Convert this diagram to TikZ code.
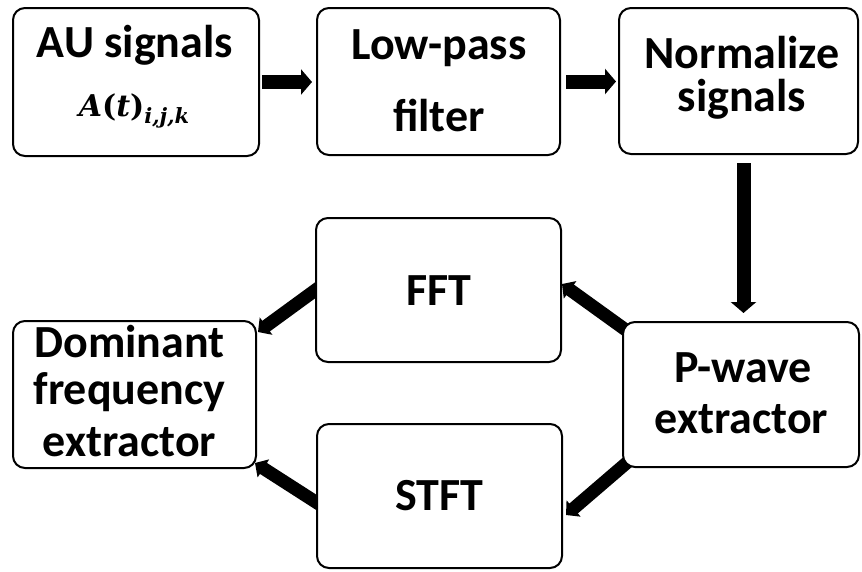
\documentclass[tikz,border=0pt]{standalone}
\usepackage{fontspec}
\setmainfont{Carlito}
\newfontfamily\mfont{DejaVu Serif}
\usetikzlibrary{arrows.meta,calc,backgrounds}
\begin{document}
\begin{tikzpicture}[x=1pt,y=-1pt,
  box/.style={draw=black, line width=2pt, rounded corners=12pt, fill=white, inner sep=0pt},
  txt/.style={anchor=base, inner sep=0pt, font=\fontsize{46}{46}\selectfont\bfseries},
  mth/.style={anchor=base, inner sep=0pt, font=\fontsize{30}{30}\selectfont\mfont\bfseries},
  bigarrow/.style={line width=14pt, -{Triangle[length=11pt,width=25pt]}},
  diagarrow/.style={line width=13pt, -{Triangle[length=10pt,width=21pt]}}]

% boxes
\node[box, minimum width=246pt, minimum height=148pt] (au)   at (136,82) {};
\node[box, minimum width=243pt, minimum height=147pt] (lp)   at (438.5,81.5) {};
\node[box, minimum width=239pt, minimum height=146pt] (nm)   at (738.5,81) {};
\node[box, minimum width=245pt, minimum height=144pt] (fft)  at (438.5,290) {};
\node[box, minimum width=245pt, minimum height=144pt] (stft) at (439.5,496) {};
\node[box, minimum width=243pt, minimum height=147pt] (dom)  at (134.5,394.5) {};
\node[box, minimum width=236pt, minimum height=145pt] (pw)   at (741,394.5) {};

% texts
\node[txt] (au1) at (135,57) {AU signals};
\node[mth] (au2) at (134,116) {\textit{A}(\textit{t})\raisebox{-7pt}{\fontsize{21}{21}\selectfont\itshape i,j,k}};
\node[txt] (lp1) at (439,59) {Low-pass};
\node[txt] (lp2) at (439,131) {filter};
\node[txt] (nm1) at (742,68) {Normalize};
\node[txt] (nm2) at (742,111) {signals};
\node[txt] (fft1) at (438.5,305) {FFT};
\node[txt] (stft1) at (439.5,510) {STFT};
\node[txt] (dom1) at (129.5,357) {Dominant};
\node[txt] (dom2) at (129.5,404) {frequency};
\node[txt] (dom3) at (129.5,456) {extractor};
\node[txt] (pw1) at (743,382) {P-wave};
\node[txt] (pw2) at (741.5,433) {extractor};

\coordinate (v1) at ($(nm.south)+(5,8)$);

\begin{scope}[on background layer]
  \fill[white] (0,0) rectangle (862,571);
  \draw[bigarrow, shorten <=2pt, shorten >=4pt] (au.east) -- (au.east -| lp.west);
  \draw[bigarrow, shorten <=5pt, shorten >=2pt] (lp.east) -- (lp.east -| nm.west);
  \draw[bigarrow, shorten >=8pt] (v1) -- (v1 |- pw.north);
  \draw[diagarrow] ($(pw.north west)+(8,12)$) -- ($(fft.east)+(0,-6)$);
  \draw[diagarrow] ($(pw.south west)+(8,-8)$) -- ($(stft.east)+(3,19)$);
  \draw[diagarrow] ($(fft.west)+(6,-4)$) -- ($(dom.north east)+(1,12)$);
  \draw[diagarrow] ($(stft.west)+(6,10)$) -- ($(dom.south east)+(-2,-6)$);
\end{scope}
\end{tikzpicture}
\end{document}
